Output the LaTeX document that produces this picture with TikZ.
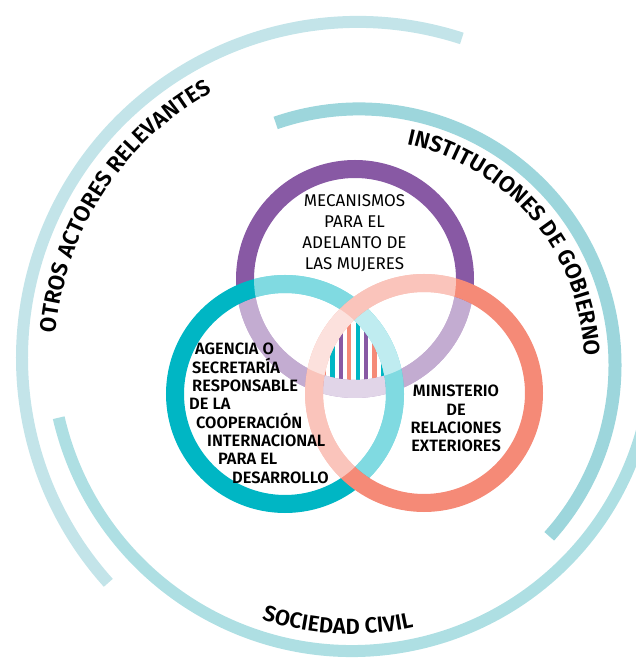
\documentclass[tikz,border=0pt]{standalone}
\usepackage{fontspec}
\setmainfont{Fira Sans}
\newfontfamily\medfont{Fira Sans SemiBold}
\usetikzlibrary{decorations.text}

\definecolor{violeta}{HTML}{8859A4}
\definecolor{turquesa}{HTML}{00B6C4}
\definecolor{salmon}{HTML}{F58A77}
\definecolor{otros}{HTML}{C3E4E9}
\definecolor{gobierno}{HTML}{9DD6DC}
\definecolor{civil}{HTML}{AEDFE3}

\tikzset{
 mec/.style={inner sep=0pt, anchor=base, font=\fontsize{17}{21}\selectfont},
 neg/.style={inner sep=0pt, font=\medfont\fontsize{16.4}{18}\selectfont}
}

\begin{document}
\begin{tikzpicture}[x=1pt,y=1pt]
\useasboundingbox (0,0) rectangle (636,658);
\clip (0,0) rectangle (636,658);

\newcommand{\anillo}[3] % {colour}{centre}{other centres}
{
 \draw[#1, line width=\w] (#2) circle (\rr);
 \foreach \o in {#3}
 {
  \begin{scope}
   \clip (\o) circle (\hole);
   \draw[white, opacity=.5, line width=\w] (#2) circle (\rr);
  \end{scope}
 }
}

\def\rr {110pt} \def\hole {101pt} \def\w {18pt}

\coordinate (P) at (355,379);
\coordinate (T) at (285,264);
\coordinate (S) at (424,265);
\coordinate (O1) at (358,300);
\coordinate (O2) at (359,293);
\coordinate (O3) at (352,308);

% outer arcs
\draw[otros, line width=12pt] (O1) ++(72:336pt) arc (72:222:336pt);
\draw[gobierno, line width=13pt] (O2) ++(109:256pt) arc (109:-42:256pt);
\draw[civil, line width=12pt] (O3) ++(193:301pt) arc (193:355:301pt);

% labels on the arcs
\path (O1) ++(187:303pt) coordinate (otrosA);
\path (O2) ++(86:226pt) coordinate (gobA);
\path (O3) ++(230:284pt) coordinate (civA);
\path[decorate, decoration={text along path, text align=center,
 text={|\medfont\fontsize{22.5}{22.5}\selectfont|OTROS ACTORES RELEVANTES}}]
 (otrosA) arc (187:107:303pt);
\path[decorate, decoration={text along path, text align=center,
 text={|\medfont\fontsize{22.5}{22.5}\selectfont|INSTITUCIONES DE GOBIERNO}}]
 (gobA) arc (86:-6:226pt);
\path[decorate, decoration={text along path, text align=center,
 text={|\medfont\fontsize{22}{22}\selectfont|SOCIEDAD CIVIL}}]
 (civA) arc (230:304:284pt);

% stripes in the common part
\begin{scope}
 \clip (P) circle (\hole);
 \clip (T) circle (\hole);
 \clip (S) circle (\hole);
 \foreach \col [count=\k from 0] in {salmon,turquesa,violeta,salmon,turquesa,violeta,salmon,turquesa}
  \fill[\col] ({321.9+8.4*\k},200) rectangle ++(4.2,200);
\end{scope}

\anillo{violeta}{P}{T,S}
\anillo{turquesa}{T}{P,S}
\anillo{salmon}{S}{P,T}

\foreach \t [count=\i] in {MECANISMOS, PARA EL, ADELANTO DE, LAS MUJERES}
 \node[mec] (mec\i) at (354.5,{451-21*(\i-1)}) {\t};

\foreach \x/\t [count=\i] in {195/AGENCIA O, 192/SECRETARÍA, 192/RESPONSABLE,
 189/DE LA, 196/COOPERACIÓN, 207/INTERNACIONAL, 218/PARA EL, 232/DESARROLLO}
 \node[neg, anchor=base west] (age\i) at (\x,{303-18.3*(\i-1)}) {\t};

\foreach \t [count=\i] in {MINISTERIO, DE, RELACIONES, EXTERIORES}
 \node[neg, anchor=base] (min\i) at (456,{261-18.3*(\i-1)}) {\t};

\end{tikzpicture}
\end{document}
